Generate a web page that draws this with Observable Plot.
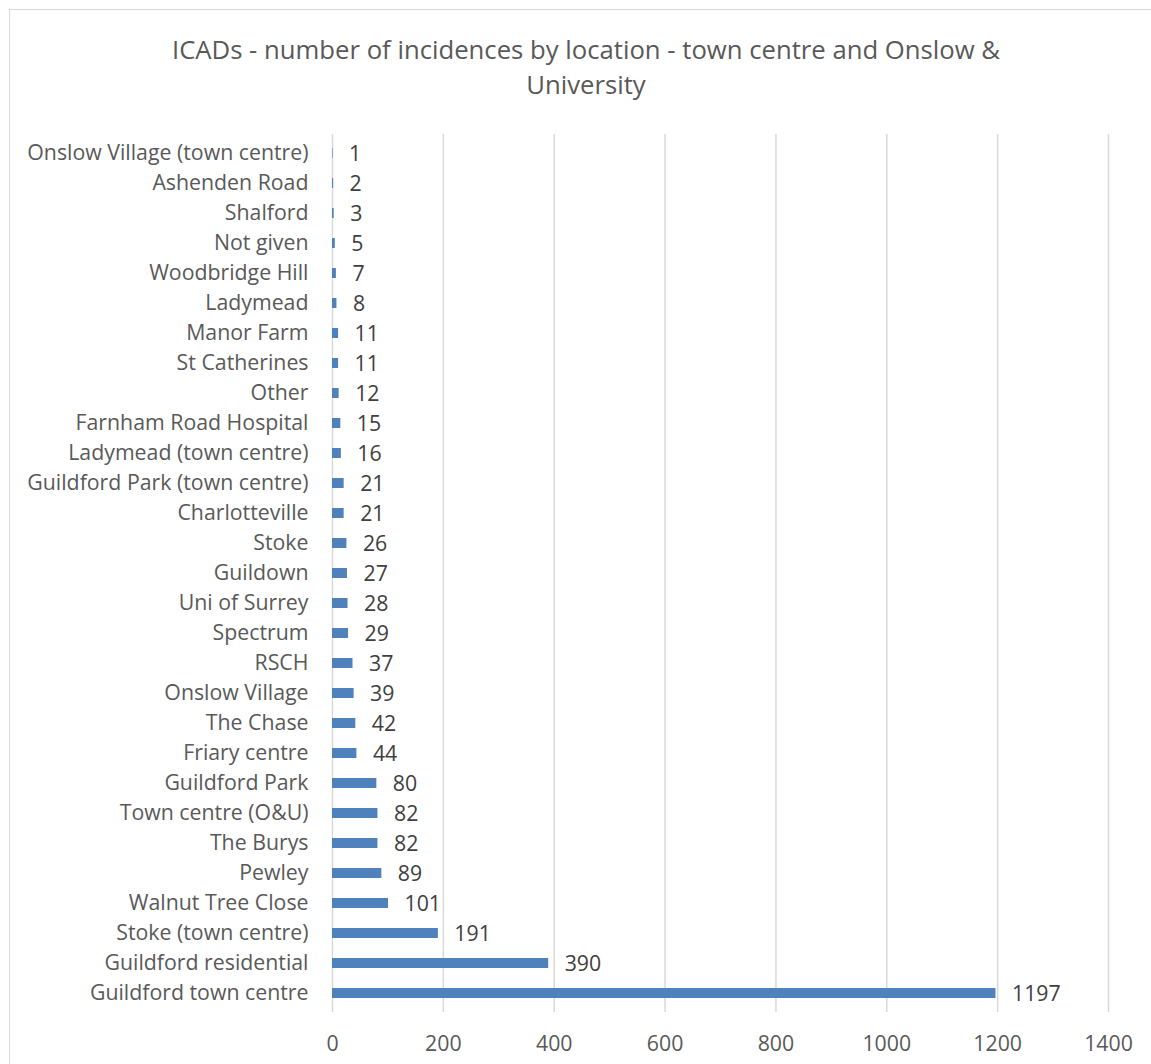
<!DOCTYPE html>
<html>
<head>
<meta charset="utf-8">
<script src="https://cdn.jsdelivr.net/npm/d3@7"></script>
<script src="https://cdn.jsdelivr.net/npm/@observablehq/plot@0.6"></script>
<style>
  html, body { margin: 0; padding: 0; background: #fff; }
  #wrap { position: relative; width: 1151px; height: 1064px; overflow: hidden; font-family: "Open Sans", sans-serif; }
  #frame { position: absolute; left: 9px; top: 9px; width: 1160px; height: 1080px; border: 1px solid #d9d9d9; box-sizing: border-box; }
  #title { position: absolute; left: 0; top: 32px; width: 1172px; text-align: center; font-size: 25.7px; line-height: 35px; color: #595959; }
  #chart { position: absolute; left: 0; top: 0; }
</style>
</head>
<body>
<div id="wrap">
  <div id="frame"></div>
  <div id="chart"></div>
  <div id="title">ICADs - number of incidences by location - town centre and Onslow &amp;<br>University</div>
</div>
<script>
const categories = [
  "Onslow Village (town centre)", "Ashenden Road", "Shalford", "Not given", "Woodbridge Hill",
  "Ladymead", "Manor Farm", "St Catherines", "Other", "Farnham Road Hospital",
  "Ladymead (town centre)", "Guildford Park (town centre)", "Charlotteville", "Stoke", "Guildown",
  "Uni of Surrey", "Spectrum", "RSCH", "Onslow Village", "The Chase",
  "Friary centre", "Guildford Park", "Town centre (O&U)", "The Burys", "Pewley",
  "Walnut Tree Close", "Stoke (town centre)", "Guildford residential", "Guildford town centre"
];
const values = [1, 2, 3, 5, 7, 8, 11, 11, 12, 15, 16, 21, 21, 26, 27, 28, 29, 37, 39, 42, 44, 80, 82, 82, 89, 101, 191, 390, 1197];
const xTicks = [0, 200, 400, 600, 800, 1000, 1200, 1400];

const data = categories.map((c, i) => ({category: c, value: values[i]}));

const chart = Plot.plot({
  width: 1151,
  height: 1064,
  marginTop: 134,
  marginBottom: 52,
  marginLeft: 332,
  marginRight: 43,
  style: {fontFamily: "'Open Sans', sans-serif", fontSize: "21.3px", color: "#595959", background: "transparent"},
  x: {domain: [0, 1400], ticks: xTicks, tickFormat: "d", label: null, tickSize: 0, tickPadding: 23, grid: false},
  y: {domain: categories, label: null, tickSize: 0, tickPadding: 24, paddingInner: 0.66, paddingOuter: 0.33},
  marks: [
    Plot.ruleX(xTicks, {stroke: "#d9d9d9", strokeWidth: 1.5, strokeOpacity: 1}),
    Plot.barX(data, {x: "value", y: "category", fill: "#4f81bd"}),
    Plot.text(data, {x: "value", y: "category", text: d => String(d.value), dx: 16, dy: 1, textAnchor: "start", fill: "#404040", fontSize: 21.3})
  ]
});
document.getElementById("chart").appendChild(chart);
</script>
</body>
</html>
